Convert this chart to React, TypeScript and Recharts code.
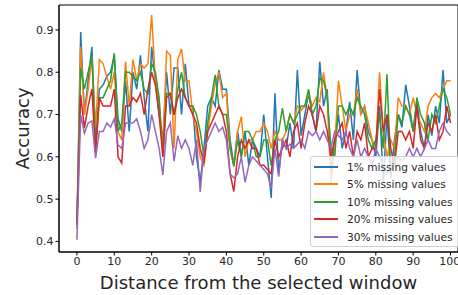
import React from "react";
import { LineChart, Line, XAxis, YAxis, ReferenceArea, Label } from "recharts";

// distance from the selected window, 0..100
const distance = Array.from({ length: 101 }, (_, i) => i);

const miss1 = [
  0.44, 0.895, 0.7, 0.78, 0.86, 0.63, 0.76, 0.77, 0.79, 0.8, 0.84, 0.69, 0.66, 0.78, 0.66, 0.8, 0.76, 0.84, 0.74, 0.66,
  0.86, 0.78, 0.7, 0.64, 0.8, 0.7, 0.81, 0.81, 0.7, 0.82, 0.72, 0.72, 0.6, 0.54, 0.62, 0.72, 0.74, 0.72, 0.805, 0.76,
  0.76, 0.64, 0.58, 0.66, 0.6, 0.66, 0.58, 0.64, 0.62, 0.6, 0.7, 0.6, 0.503, 0.75, 0.56, 0.64, 0.62, 0.68, 0.62, 0.805,
  0.65, 0.7, 0.75, 0.7, 0.66, 0.825, 0.72, 0.76, 0.56, 0.64, 0.7, 0.62, 0.66, 0.73, 0.64, 0.805, 0.7, 0.72, 0.66, 0.64,
  0.6, 0.72, 0.54, 0.7, 0.55, 0.64, 0.7, 0.67, 0.77, 0.72, 0.66, 0.73, 0.66, 0.62, 0.7, 0.65, 0.72, 0.68, 0.805, 0.68,
  0.7,
];
const miss5 = [
  0.43, 0.86, 0.7, 0.76, 0.836, 0.67, 0.83, 0.82, 0.79, 0.76, 0.8, 0.66, 0.64, 0.825, 0.72, 0.83, 0.78, 0.82, 0.81, 0.82,
  0.935, 0.78, 0.73, 0.62, 0.85, 0.84, 0.62, 0.83, 0.855, 0.78, 0.78, 0.7, 0.66, 0.6, 0.58, 0.66, 0.72, 0.775, 0.8, 0.74,
  0.75, 0.62, 0.58, 0.66, 0.695, 0.6, 0.64, 0.64, 0.66, 0.66, 0.68, 0.66, 0.62, 0.66, 0.64, 0.64, 0.66, 0.7, 0.68, 0.72,
  0.71, 0.72, 0.75, 0.72, 0.74, 0.73, 0.8, 0.74, 0.538, 0.62, 0.78, 0.72, 0.66, 0.7, 0.7, 0.76, 0.7, 0.72, 0.68, 0.64,
  0.62, 0.8, 0.66, 0.6, 0.64, 0.62, 0.74, 0.72, 0.72, 0.7, 0.74, 0.7, 0.68, 0.66, 0.72, 0.74, 0.75, 0.74, 0.76, 0.78,
  0.78,
];
const miss10 = [
  0.44, 0.81, 0.76, 0.8, 0.84, 0.62, 0.74, 0.74, 0.76, 0.78, 0.845, 0.66, 0.68, 0.8, 0.8, 0.79, 0.78, 0.8, 0.76, 0.75,
  0.82, 0.8, 0.74, 0.6, 0.75, 0.75, 0.7, 0.76, 0.8, 0.74, 0.72, 0.72, 0.7, 0.66, 0.6, 0.68, 0.74, 0.794, 0.72, 0.7,
  0.7, 0.62, 0.577, 0.64, 0.6, 0.66, 0.66, 0.64, 0.6, 0.6, 0.64, 0.64, 0.58, 0.64, 0.66, 0.715, 0.66, 0.7, 0.68, 0.7,
  0.72, 0.72, 0.76, 0.7, 0.72, 0.786, 0.78, 0.74, 0.62, 0.6, 0.72, 0.72, 0.7, 0.72, 0.7, 0.74, 0.72, 0.7, 0.64, 0.62,
  0.64, 0.7, 0.62, 0.795, 0.56, 0.6, 0.7, 0.68, 0.72, 0.7, 0.66, 0.74, 0.7, 0.68, 0.64, 0.7, 0.68, 0.72, 0.76, 0.74,
  0.7,
];
const miss20 = [
  0.44, 0.746, 0.668, 0.72, 0.76, 0.61, 0.74, 0.72, 0.72, 0.72, 0.76, 0.6, 0.585, 0.72, 0.72, 0.74, 0.73, 0.75, 0.7, 0.76,
  0.8, 0.77, 0.7, 0.6, 0.74, 0.75, 0.7, 0.74, 0.76, 0.74, 0.72, 0.7, 0.68, 0.62, 0.585, 0.66, 0.68, 0.7, 0.72, 0.7,
  0.66, 0.56, 0.518, 0.6, 0.64, 0.62, 0.64, 0.62, 0.62, 0.58, 0.58, 0.57, 0.56, 0.64, 0.6, 0.62, 0.64, 0.6, 0.66, 0.68,
  0.62, 0.68, 0.72, 0.7, 0.66, 0.72, 0.7, 0.66, 0.6, 0.64, 0.66, 0.68, 0.62, 0.66, 0.6, 0.66, 0.64, 0.68, 0.6, 0.62,
  0.62, 0.76, 0.66, 0.7, 0.62, 0.58, 0.66, 0.66, 0.64, 0.66, 0.62, 0.72, 0.64, 0.62, 0.68, 0.66, 0.7, 0.64, 0.66, 0.72,
  0.68,
];
const miss30 = [
  0.404, 0.7, 0.656, 0.68, 0.685, 0.597, 0.66, 0.66, 0.68, 0.67, 0.69, 0.628, 0.62, 0.68, 0.68, 0.68, 0.69, 0.66, 0.62, 0.64,
  0.7, 0.66, 0.62, 0.557, 0.66, 0.68, 0.59, 0.65, 0.62, 0.64, 0.62, 0.58, 0.64, 0.517, 0.62, 0.64, 0.66, 0.68, 0.66, 0.67,
  0.64, 0.56, 0.55, 0.56, 0.6, 0.54, 0.58, 0.6, 0.59, 0.58, 0.57, 0.56, 0.525, 0.62, 0.553, 0.64, 0.62, 0.63, 0.62, 0.63,
  0.64, 0.62, 0.66, 0.65, 0.66, 0.64, 0.66, 0.64, 0.62, 0.66, 0.65, 0.64, 0.66, 0.62, 0.6, 0.64, 0.6, 0.62, 0.6, 0.58,
  0.62, 0.6, 0.58, 0.56, 0.57, 0.59, 0.6, 0.59, 0.6, 0.62, 0.6, 0.62, 0.6, 0.62, 0.64, 0.62, 0.62, 0.66, 0.68, 0.66,
  0.65,
];

const xTicks = [0, 10, 20, 30, 40, 50, 60, 70, 80, 90, 100];
const yTicks = [0.4, 0.5, 0.6, 0.7, 0.8, 0.9];

const series = [
  { key: "m1", name: "1% missing values", color: "#1f77b4", values: miss1 },
  { key: "m5", name: "5% missing values", color: "#ff7f0e", values: miss5 },
  { key: "m10", name: "10% missing values", color: "#2ca02c", values: miss10 },
  { key: "m20", name: "20% missing values", color: "#d62728", values: miss20 },
  { key: "m30", name: "30% missing values", color: "#9467bd", values: miss30 },
];

const data = distance.map((d, i) => {
  const row: any = { d };
  series.forEach((s) => (row[s.key] = s.values[i]));
  return row;
});

const X_DOMAIN: [number, number] = [-4.8, 102];
const Y_DOMAIN: [number, number] = [0.375, 0.959];
const font = "'DejaVu Sans', sans-serif";
const tickStyle = { fontSize: 11, fill: "#262626", fontFamily: font };

const LegendBox = () => (
  <div
    style={{
      position: "absolute",
      left: 310,
      top: 156,
      width: 150,
      height: 91,
      boxSizing: "border-box",
      border: "1px solid #d0d0d0",
      borderRadius: 3,
      background: "rgba(255,255,255,0.8)",
      fontFamily: font,
      fontSize: 10.6,
      color: "#262626",
      padding: "1px 0 0 3px",
    }}
  >
    {series.map((s) => (
      <div key={s.key} style={{ display: "flex", alignItems: "center", height: 17.5 }}>
        <div style={{ width: 24, height: 2, background: s.color, marginRight: 9 }} />
        <span style={{ whiteSpace: "nowrap" }}>{s.name}</span>
      </div>
    ))}
  </div>
);

export default function App() {
  return (
    <div style={{ position: "absolute", left: 0, top: 0, width: 458, height: 295, overflow: "hidden", background: "#fff" }}>
      <LineChart width={458} height={295} data={data} margin={{ top: 5, right: 0, left: 0, bottom: 0 }}>
        <ReferenceArea x1={X_DOMAIN[0]} x2={X_DOMAIN[1]} y1={Y_DOMAIN[0]} y2={Y_DOMAIN[1]} fill="none" stroke="#000" strokeWidth={1} ifOverflow="visible" />
        <XAxis
          type="number"
          dataKey="d"
          domain={X_DOMAIN}
          ticks={xTicks}
          allowDataOverflow
          height={43}
          tick={tickStyle}
          tickSize={3.5}
          tickLine={{ stroke: "#000" }}
          axisLine={{ stroke: "#000" }}
        >
          <Label value="Distance from the selected window" position="insideBottom" offset={6} style={{ fontSize: 18, fill: "#262626", fontFamily: font }} />
        </XAxis>
        <YAxis
          type="number"
          domain={Y_DOMAIN}
          ticks={yTicks}
          allowDataOverflow
          width={59}
          tick={tickStyle}
          tickSize={3.5}
          tickLine={{ stroke: "#000" }}
          axisLine={{ stroke: "#000" }}
          tickFormatter={(v: number) => v.toFixed(1)}
        >
          <Label
            content={({ viewBox }: any) => {
              const cx = 22;
              const cy = viewBox.y + viewBox.height / 2;
              return (
                <text x={cx} y={cy} transform={`rotate(-90 ${cx} ${cy})`} textAnchor="middle" dominantBaseline="central" style={{ fontSize: 18, fill: "#262626", fontFamily: font }}>
                  Accuracy
                </text>
              );
            }}
          />
        </YAxis>
        {series.map((s) => (
          <Line key={s.key} dataKey={s.key} name={s.name} stroke={s.color} strokeWidth={1.5} dot={false} type="linear" isAnimationActive={false} />
        ))}
      </LineChart>
      <LegendBox />
    </div>
  );
}
